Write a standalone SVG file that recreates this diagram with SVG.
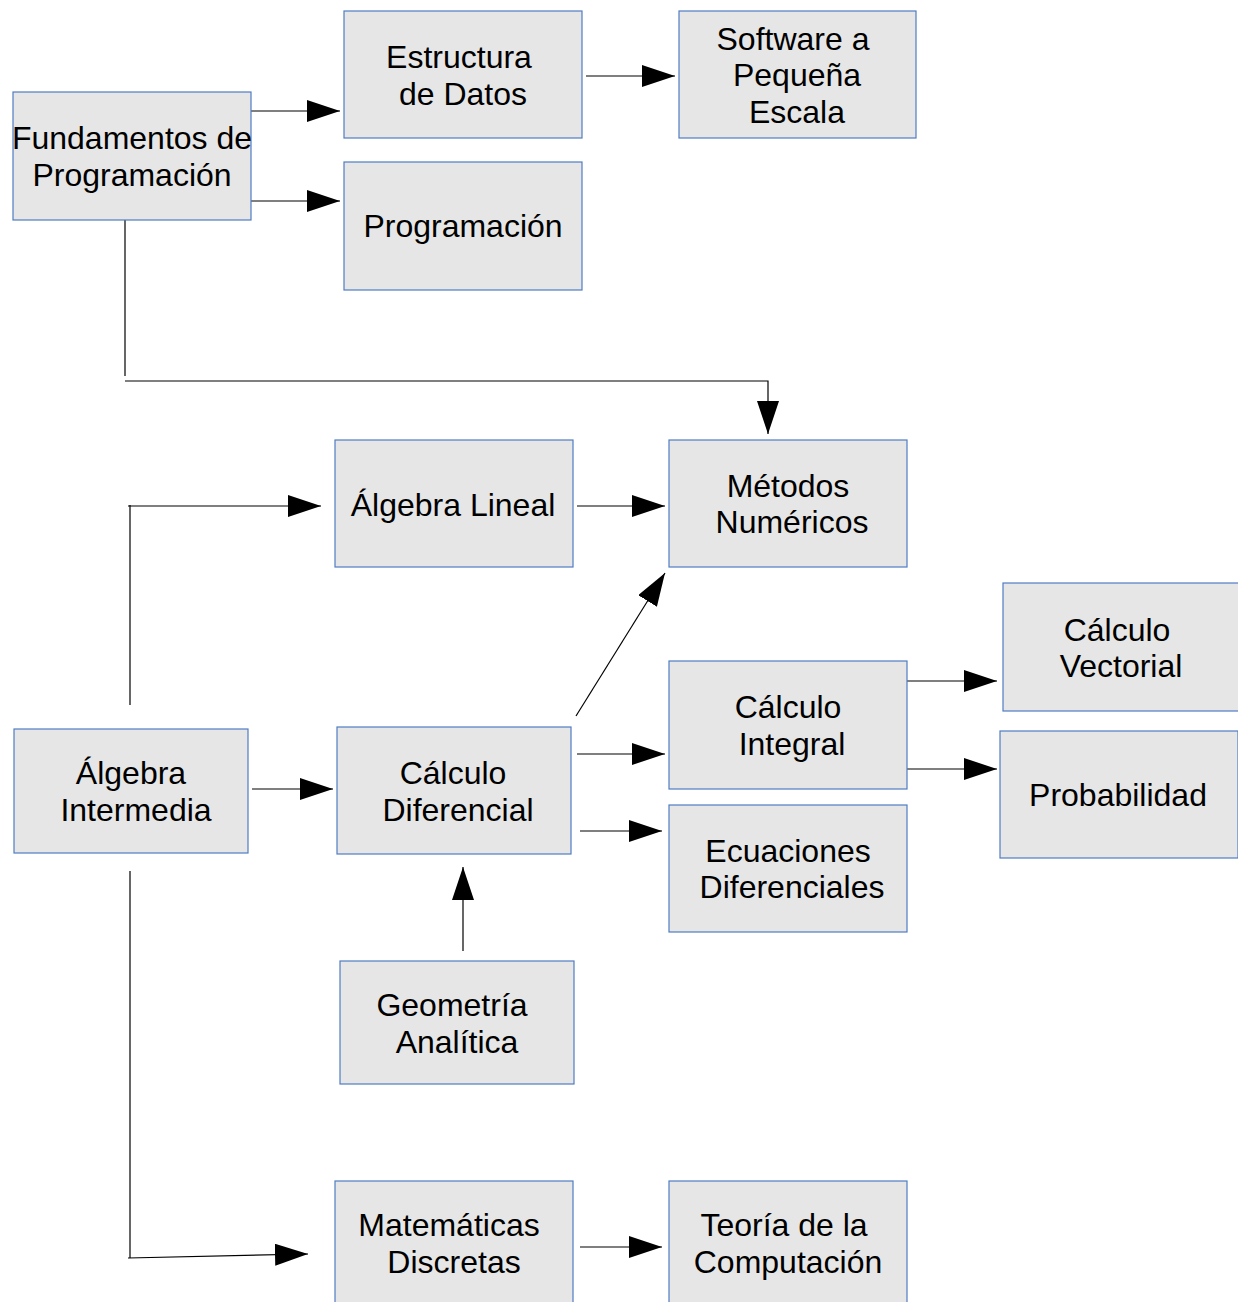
<svg xmlns="http://www.w3.org/2000/svg" width="1238" height="1302" viewBox="0 0 1238 1302">
<style>
.box{fill:#e6e6e6;stroke:#4f7cc4;stroke-width:1.2}
.t{font-family:"Liberation Sans",Arial,sans-serif;font-size:32px;fill:#000;text-anchor:middle}
.c{stroke:#000;stroke-width:1.2;fill:none}
.a{marker-end:url(#ah)}
</style>
<defs>
<marker id="ah" markerUnits="userSpaceOnUse" markerWidth="34" markerHeight="24" refX="33" refY="11" orient="auto">
<path d="M0,0 L33,11 L0,22 z" fill="#000"/>
</marker>
</defs>
<rect width="1238" height="1302" fill="#fff"/>
<g id="connectors">
<line class="c a" x1="251" y1="111" x2="340" y2="111"/>
<line class="c a" x1="251" y1="201" x2="340" y2="201"/>
<line class="c a" x1="586" y1="76" x2="675" y2="76"/>
<line class="c" x1="125" y1="220" x2="125" y2="376"/>
<polyline class="c a" points="125,381 768,381 768,434"/>
<line class="c a" x1="577" y1="506" x2="665" y2="506"/>
<line class="c" x1="130" y1="705" x2="130" y2="505"/>
<line class="c a" x1="128" y1="506" x2="321" y2="506"/>
<line class="c a" x1="576" y1="716" x2="665" y2="573"/>
<line class="c a" x1="252" y1="789" x2="333" y2="789"/>
<line class="c a" x1="577" y1="754" x2="665" y2="754"/>
<line class="c a" x1="580" y1="831" x2="662" y2="831"/>
<line class="c a" x1="907" y1="681" x2="997" y2="681"/>
<line class="c a" x1="907" y1="769" x2="997" y2="769"/>
<line class="c a" x1="463" y1="951" x2="463" y2="867"/>
<line class="c" x1="130" y1="871" x2="130" y2="1258"/>
<line class="c a" x1="128" y1="1258" x2="308" y2="1254"/>
<line class="c a" x1="580" y1="1247" x2="662" y2="1247"/>
</g>
<g id="fundamentos"><rect class="box" x="13" y="92" width="238" height="128"/><text class="t" x="132" y="149">Fundamentos de</text><text class="t" x="132" y="186">Programación</text></g>
<g id="estructura"><rect class="box" x="344" y="11" width="238" height="127"/><text class="t" x="459" y="68">Estructura</text><text class="t" x="463" y="105">de Datos</text></g>
<g id="software"><rect class="box" x="679" y="11" width="237" height="127"/><text class="t" x="793" y="50">Software a</text><text class="t" x="797" y="86">Pequeña</text><text class="t" x="797" y="123">Escala</text></g>
<g id="programacion"><rect class="box" x="344" y="162" width="238" height="128"/><text class="t" x="463" y="237">Programación</text></g>
<g id="metodos"><rect class="box" x="669" y="440" width="238" height="127"/><text class="t" x="788" y="497">Métodos</text><text class="t" x="792" y="533">Numéricos</text></g>
<g id="algebra-lineal"><rect class="box" x="335" y="440" width="238" height="127"/><text class="t" x="453" y="516">Álgebra Lineal</text></g>
<g id="calculo-vectorial"><rect class="box" x="1003" y="583" width="236" height="128"/><text class="t" x="1117" y="641">Cálculo</text><text class="t" x="1121" y="677">Vectorial</text></g>
<g id="calculo-integral"><rect class="box" x="669" y="661" width="238" height="128"/><text class="t" x="788" y="718">Cálculo</text><text class="t" x="792" y="755">Integral</text></g>
<g id="probabilidad"><rect class="box" x="1000" y="731" width="238" height="127"/><text class="t" x="1118" y="806">Probabilidad</text></g>
<g id="algebra-intermedia"><rect class="box" x="14" y="729" width="234" height="124"/><text class="t" x="131" y="784">Álgebra</text><text class="t" x="136" y="821">Intermedia</text></g>
<g id="calculo-diferencial"><rect class="box" x="337" y="727" width="234" height="127"/><text class="t" x="453" y="784">Cálculo</text><text class="t" x="458" y="821">Diferencial</text></g>
<g id="ecuaciones"><rect class="box" x="669" y="805" width="238" height="127"/><text class="t" x="788" y="862">Ecuaciones</text><text class="t" x="792" y="898">Diferenciales</text></g>
<g id="geometria"><rect class="box" x="340" y="961" width="234" height="123"/><text class="t" x="452" y="1016">Geometría</text><text class="t" x="457" y="1053">Analítica</text></g>
<g id="discretas"><rect class="box" x="335" y="1181" width="238" height="130"/><text class="t" x="449" y="1236">Matemáticas</text><text class="t" x="454" y="1273">Discretas</text></g>
<g id="teoria"><rect class="box" x="669" y="1181" width="238" height="130"/><text class="t" x="784" y="1236">Teoría de la</text><text class="t" x="788" y="1273">Computación</text></g>
</svg>
